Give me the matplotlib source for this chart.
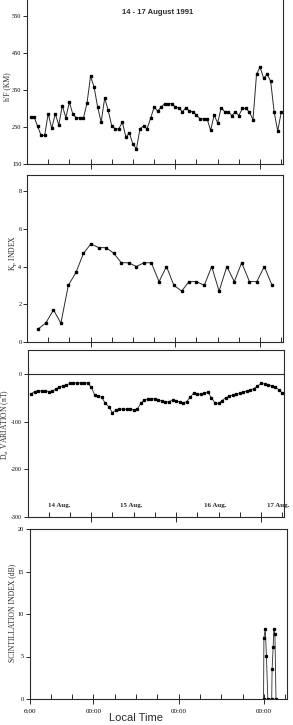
#!/usr/bin/python
"""
hF, Kp, Dst and scintillation, 14-17 August 1991
"""
import numpy as np
import matplotlib
matplotlib.use('Agg')
import matplotlib.pyplot as plt

plt.rcParams['font.family'] = ['Liberation Serif', 'DejaVu Serif']
plt.rcParams['mathtext.fontset'] = 'stix'
plt.rcParams['axes.unicode_minus'] = False

# hours after 14 Aug 06:00 LT
hf_hours = list(range(1, 73))
hf_km = [277, 277, 252, 227, 227, 286, 246, 286, 255, 308, 275, 317,
         284, 275, 275, 275, 315, 387, 358, 304, 263, 328, 295, 253,
         245, 245, 263, 223, 234, 203, 191, 245, 253, 245, 273, 304,
         293, 304, 313, 313, 313, 304, 302, 291, 302, 293, 291, 282,
         272, 272, 272, 241, 282, 261, 302, 291, 291, 281, 290, 281,
         300, 300, 290, 270, 392, 412, 382, 392, 374, 290, 239, 290]

kp_hours = [3.2, 5.3, 7.5, 9.6, 11.7, 13.9, 16.0, 18.1, 20.3, 22.4, 24.6,
            26.7, 28.8, 31.0, 33.1, 35.2, 37.4, 39.5, 41.6, 43.8, 45.9, 48.0,
            50.2, 52.3, 54.4, 56.6, 58.7, 60.8, 63.0, 65.1, 67.2, 69.4]
kp = [0.7, 1.0, 1.7, 1.0, 3.0, 3.7, 4.7, 5.2, 5.0, 5.0, 4.7, 4.2, 4.2, 4.0,
      4.2, 4.2, 3.2, 4.0, 3.0, 2.7, 3.2, 3.2, 3.0, 4.0, 2.7, 4.0, 3.2, 4.2,
      3.2, 3.2, 4.0, 3.0]

dst_hours = list(range(1, 73))
dst = [-42, -37, -35, -36, -36, -37, -36, -32, -27, -25, -23, -20,
       -19, -19, -19, -19, -19, -28, -44, -47, -49, -62, -69, -81,
       -76, -74, -74, -74, -74, -75, -74, -62, -54, -53, -52, -52,
       -54, -57, -60, -58, -55, -56, -59, -61, -58, -49, -40, -42,
       -43, -40, -39, -50, -61, -62, -56, -50, -47, -44, -42, -41,
       -38, -36, -34, -31, -26, -20, -21, -24, -25, -28, -33, -40]

sc_hours = [65.9, 66.0, 66.4, 66.7, 67.1, 68.2, 68.3, 68.6, 68.8, 69.1, 69.4]
sc_db = [0, 7.2, 8.2, 5.1, 0, 0, 3.5, 6.1, 8.2, 7.6, 0]

date_labels = ['14 Aug.', '15 Aug.', '16 Aug.', '17 Aug.']
date_hours = [8.9, 29.3, 53.0, 70.8]
time_labels = ['6:00', '00:00', '00:00', '00:00']
time_hours = [0, 18, 42, 66]

W, H = 293., 725.
def box(l, t, r, b):
    return [l / W, 1 - b / H, (r - l) / W, (b - t) / H]

ink = '#2a2a2a'
fig = plt.figure(figsize=(2.93, 7.25), dpi=100)

ax1 = fig.add_axes(box(27, 0, 283, 164))
ax2 = fig.add_axes(box(27, 175, 283, 342))
ax3 = fig.add_axes(box(27.5, 350, 284, 517))
ax4 = fig.add_axes(box(29.5, 529, 287, 699))

for ax in [ax1, ax2, ax3, ax4]:
    ax.set_xlim(0, 72.5)
    for s in ax.spines.values():
        s.set_linewidth(0.8)
        s.set_color(ink)
    ax.set_xticks([18, 42, 66])
    ax.set_xticks([6, 12, 24, 30, 36, 48, 54, 60, 72], minor=True)
    ax.tick_params(axis='x', which='major', direction='inout', length=7,
                   width=0.7, color=ink, labelbottom=False)
    ax.tick_params(axis='x', which='minor', direction='in', length=3.5,
                   width=0.7, color=ink)
    ax.tick_params(axis='y', direction='out', length=3, width=0.7,
                   color=ink, labelsize=4.5, pad=1)

ax1.spines['top'].set_visible(False)

# h'F
ax1.plot(hf_hours, hf_km, '-', color=ink, lw=0.7, marker='s', ms=1.5,
         mfc='black', mec='black')
ax1.set_ylim(150, 593)
ax1.set_yticks([150, 250, 350, 450, 550])

# Kp
ax2.plot(kp_hours, kp, '-', color=ink, lw=0.7, marker='s', ms=1.5,
         mfc='black', mec='black')
ax2.set_ylim(0, 8.85)
ax2.set_yticks([0, 2, 4, 6, 8])

# Dst
ax3.axhline(0, color=ink, lw=0.8)
ax3.plot(dst_hours, dst, '-', color=ink, lw=0.6, marker='s', ms=1.4,
         mfc='black', mec='black')
ax3.set_ylim(-300, 50)
ax3.set_yticks([-300, -200, -100, 0])
ax3.tick_params(axis='y', labelsize=4.2)
for h, s in zip(date_hours, date_labels):
    ax3.text(h, -275, s, ha='center', va='center', fontsize=5,
             fontweight='bold', color=ink, clip_on=False)

# scintillation
ax4.plot(sc_hours, sc_db, '-', color=ink, lw=0.6, marker='s', ms=1.4,
         mfc='black', mec='black')
ax4.set_ylim(0, 20)
ax4.set_yticks([0, 5, 10, 15, 20])
ax4.set_xticks(time_hours, time_labels)
ax4.set_xticks([6, 12, 24, 30, 36, 48, 54, 60, 72], minor=True)
ax4.tick_params(axis='x', which='major', labelbottom=True, labelsize=5, pad=4)

# axis titles
lab = dict(rotation=90, ha='center', va='center', fontsize=5.5, color=ink)
fig.text(7 / W, 1 - 87 / H, "h'F (KM)", **lab)
fig.text(13 / W, 1 - 253 / H, r'K$_\mathrm{p}$ INDEX', **lab)
fig.text(5 / W, 1 - 425 / H, r'D$_\mathrm{st}$ VARIATION (nT)', **lab)
fig.text(12 / W, 1 - 613 / H, 'SCINTILLATION INDEX (dB)', **lab)

fig.text(158 / W, 1 - 13 / H, '14 - 17 August 1991', ha='center', va='center',
         fontsize=5.5, fontweight='bold', family='Liberation Sans', color=ink)
fig.text(136 / W, 1 - 713 / H, 'Local Time', ha='center', va='top',
         fontsize=8, family='Liberation Sans', color=ink)

plt.savefig('out.png', dpi=100)
